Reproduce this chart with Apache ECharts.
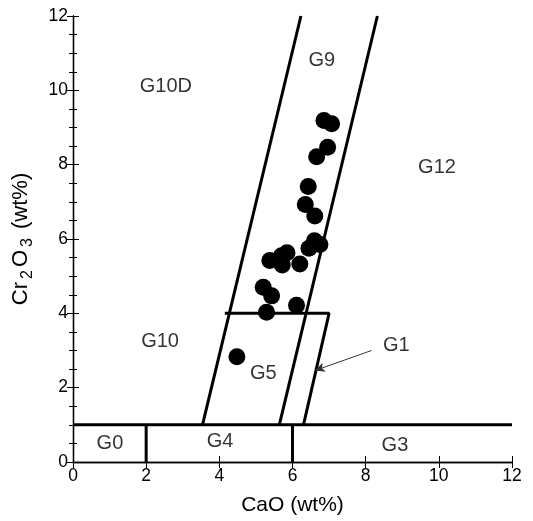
<!DOCTYPE html>
<html><head><meta charset="utf-8">
<script src="https://cdn.jsdelivr.net/npm/echarts@6/dist/echarts.min.js"></script>
<style>html,body{margin:0;padding:0;background:#fff}#c{width:533px;height:521px}</style>
</head><body><div id="c"></div>
<script>
// Sample points: CaO (wt%), Cr2O3 (wt%)
var cao = [6.86, 7.07, 6.96, 6.66, 6.43, 6.35, 6.61, 6.6, 6.75, 6.45, 5.38, 5.7, 5.85, 5.72, 6.2, 5.2, 5.43, 5.29, 6.11, 4.48];
var cr2o3 = [9.19, 9.1, 8.47, 8.21, 7.41, 6.93, 6.62, 5.95, 5.85, 5.75, 5.42, 5.55, 5.63, 5.3, 5.33, 4.7, 4.47, 4.03, 4.22, 2.83];

// Field boundaries
var lineY1 = [[0, 1], [12, 1]];
var lineX2 = [[2, 0], [2, 1]];
var lineX6 = [[6, 0], [6, 1]];
var lineG9Left = [[3.54, 1], [6.23, 12]];
var lineG9Right = [[5.64, 1], [8.32, 12]];
var lineG1Box = [[4.15, 4], [7.0, 4], [6.3, 1]];

// Field labels
var fieldNames = ['G10D', 'G9', 'G12', 'G10', 'G5', 'G1', 'G0', 'G4', 'G3'];
var fieldX = [2.54, 6.8, 9.95, 2.38, 5.2, 8.84, 1.01, 4.02, 8.8];
var fieldY = [10.1, 10.8, 7.93, 3.23, 2.37, 3.13, 0.49, 0.54, 0.45];

// Arrow for G1 (from label toward field)
var arrowFrom = [8.16, 3.0];
var arrowTo = [6.61, 2.46];

var xTicks = [0, 2, 4, 6, 8, 10, 12];
var yTicks = [0, 2, 4, 6, 8, 10, 12];

var FONT = 'Liberation Sans, Arial, sans-serif';
var chart = echarts.init(document.getElementById('c'));

function seg(d) {
  return {type: 'line', data: d, symbol: 'none', silent: true,
    lineStyle: {color: '#000', width: 3}, z: 3, animation: false};
}

var labelPts = fieldNames.map(function (n, i) { return {value: [fieldX[i], fieldY[i]], name: n}; });

var option = {
  animation: false,
  grid: {left: 73, right: 21, top: 16, bottom: 58, containLabel: false},
  xAxis: [{
    type: 'value', min: xTicks[0], max: xTicks[xTicks.length - 1], interval: 2,
    name: 'CaO (wt%)', nameLocation: 'middle', nameGap: 33,
    nameTextStyle: {fontFamily: FONT, fontSize: 21, color: '#000'},
    axisLine: {show: true, lineStyle: {color: '#000', width: 1.3}},
    axisTick: {show: true, inside: true, length: 6, lineStyle: {color: '#000', width: 1}},
    axisLabel: {fontFamily: FONT, fontSize: 17.5, color: '#000', margin: 5},
    splitLine: {show: false}
  }, {
    type: 'value', position: 'top', min: 0, max: 12, interval: 2,
    axisLine: {show: true, lineStyle: {color: '#000', width: 1.3}},
    axisTick: {show: true, inside: true, length: 6, lineStyle: {color: '#000', width: 1}},
    axisLabel: {show: false}, splitLine: {show: false}
  }],
  yAxis: [{
    type: 'value', min: yTicks[0], max: yTicks[yTicks.length - 1], interval: 2,
    name: '{n|Cr}{s|2}{n|O}{s|3}{n| (wt%)}', nameLocation: 'middle', nameGap: 37,
    nameTextStyle: {fontFamily: FONT, fontSize: 22, color: '#000',
      rich: {n: {fontFamily: FONT, fontSize: 22, color: '#000'},
             s: {fontFamily: FONT, fontSize: 16, color: '#000', verticalAlign: 'bottom', padding: [14, 3, 0, 3]}}},
    axisLine: {show: true, lineStyle: {color: '#000', width: 1.3}},
    axisTick: {show: true, inside: true, length: 6, lineStyle: {color: '#000', width: 1}},
    minorTick: {show: true, splitNumber: 4, length: 4, lineStyle: {color: '#000', width: 1}},
    axisLabel: {fontFamily: FONT, fontSize: 17.5, color: '#000', margin: 5},
    splitLine: {show: false}, minorSplitLine: {show: false}
  }, {
    type: 'value', position: 'right', min: 0, max: 12, interval: 2,
    axisLine: {show: true, lineStyle: {color: '#000', width: 1.3}},
    axisTick: {show: true, inside: true, length: 6, lineStyle: {color: '#000', width: 1}},
    minorTick: {show: true, splitNumber: 4, length: 4, lineStyle: {color: '#000', width: 1}},
    axisLabel: {show: false}, splitLine: {show: false}, minorSplitLine: {show: false}
  }],
  series: [
    seg(lineY1), seg(lineX2), seg(lineX6), seg(lineG9Left), seg(lineG9Right),
    (function () {
      var s = seg(lineG1Box);
      s.markLine = {silent: true, symbol: ['none', 'arrow'], symbolSize: [7, 10], animation: false,
        label: {show: false}, lineStyle: {color: '#333', width: 1, type: 'solid'},
        data: [[{coord: arrowFrom}, {coord: arrowTo}]]};
      return s;
    })(),
    {type: 'scatter', data: cao.map(function (v, i) { return [v, cr2o3[i]]; }),
      symbol: 'circle', symbolSize: 17, itemStyle: {color: '#000', opacity: 1}, z: 5},
    {type: 'scatter', data: labelPts, symbolSize: 0, silent: true, z: 6,
      label: {show: true, position: 'inside', formatter: '{b}', fontFamily: FONT, fontSize: 20, color: '#000'}}
  ]
};
chart.setOption(option);
</script></body></html>
